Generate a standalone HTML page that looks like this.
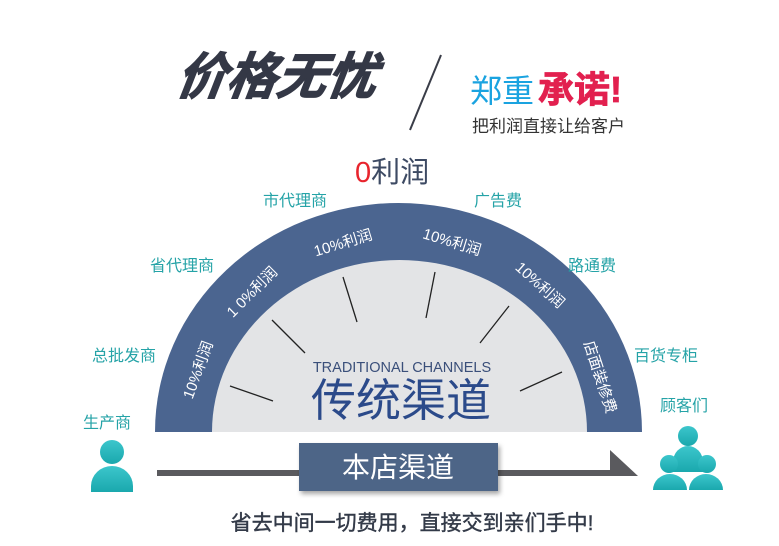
<!DOCTYPE html>
<html><head><meta charset="utf-8"><style>
html,body{margin:0;padding:0;background:#fff;width:779px;height:546px;overflow:hidden;}
svg{display:block;}
text{font-family:"Liberation Sans","Noto Sans CJK SC",sans-serif;}
</style></head><body>
<svg width="779" height="546" viewBox="0 0 779 546" xmlns="http://www.w3.org/2000/svg">
<defs>
<linearGradient id="tg" x1="0" y1="0" x2="0" y2="1"><stop offset="0" stop-color="#3cc6cc"/><stop offset="1" stop-color="#1aa8ad"/></linearGradient>
<filter id="sh" x="-10%" y="-20%" width="130%" height="160%"><feDropShadow dx="2" dy="3" stdDeviation="2.5" flood-color="#000" flood-opacity="0.35"/></filter>
<clipPath id="top"><rect x="0" y="0" width="779" height="432"/></clipPath>
</defs>
<rect width="779" height="546" fill="#fff"/>
<text x="176" y="94" font-size="50" font-weight="bold" font-style="italic" fill="#343846" stroke="#343846" stroke-width="1.2" transform="skewX(-8) translate(12,0)">价格无忧</text>
<line x1="441" y1="55" x2="410" y2="130" stroke="#3a3d48" stroke-width="2"/>
<text x="470" y="102" font-size="32" fill="#1aa3e0">郑重</text>
<text x="538" y="102" font-size="36" font-weight="bold" fill="#e2204f" stroke="#e2204f" stroke-width="0.8">承诺!</text>
<text x="472" y="132" font-size="17" fill="#333">把利润直接让给客户</text>
<text x="355" y="182" font-size="29" fill="#3d4a63"><tspan fill="#e8242d">0</tspan>利润</text>
<g clip-path="url(#top)">
<ellipse cx="398.5" cy="432" rx="243.5" ry="229" fill="#4b6590"/>
<ellipse cx="399.5" cy="432" rx="187.5" ry="172" fill="#e3e4e6"/>
</g>
<g stroke="#222" stroke-width="1.3">
<line x1="230" y1="386" x2="273" y2="401"/>
<line x1="272" y1="320" x2="305" y2="353"/>
<line x1="343" y1="277" x2="357" y2="322"/>
<line x1="435" y1="272" x2="426" y2="318"/>
<line x1="509" y1="306" x2="480" y2="343"/>
<line x1="562" y1="372" x2="520" y2="391"/>
</g>
<g font-size="15" fill="#fff" text-anchor="middle">
<text transform="translate(198,370) rotate(-70)" y="5">10%利润</text>
<text transform="translate(252,292) rotate(-45)" y="5">1 0%利润</text>
<text transform="translate(343,243) rotate(-17)" y="5">10%利润</text>
<text transform="translate(452,242) rotate(17)" y="5">10%利润</text>
<text transform="translate(540,285) rotate(42)" y="5">10%利润</text>
<text transform="translate(600,377) rotate(72)" y="5">店面装修费</text>
</g>
<text x="402" y="372" font-size="14.5" fill="#3a4f7a" text-anchor="middle">TRADITIONAL CHANNELS</text>
<text x="401" y="416" font-size="45" fill="#2b4a8a" text-anchor="middle">传统渠道</text>
<g font-size="16" fill="#25a3a7">
<text x="263" y="206">市代理商</text>
<text x="474" y="206">广告费</text>
<text x="150" y="271">省代理商</text>
<text x="568" y="271">路通费</text>
<text x="92" y="361">总批发商</text>
<text x="634" y="361">百货专柜</text>
<text x="83" y="428">生产商</text>
<text x="660" y="411">顾客们</text>
</g>
<rect x="157" y="470" width="455" height="6" fill="#5a5a5e"/>
<polygon points="610,450 638,476 610,476" fill="#5a5a5e"/>
<rect x="299" y="443" width="199" height="48" fill="#4d6587" filter="url(#sh)"/>
<text x="398" y="477" font-size="28" fill="#fff" text-anchor="middle">本店渠道</text>
<circle cx="112" cy="452" r="12" fill="url(#tg)"/>
<path d="M91,492 L91,486 A21,20 0 0 1 133,486 L133,492 Z" fill="url(#tg)"/>
<circle cx="688" cy="436" r="10" fill="url(#tg)"/>
<path d="M673,472 L673,462 A15,16 0 0 1 703,462 L703,472 Z" fill="url(#tg)"/>
<circle cx="669" cy="464" r="9" fill="url(#tg)"/>
<circle cx="707" cy="464" r="9" fill="url(#tg)"/>
<path d="M653,490 A17,16 0 0 1 687,490 Z" fill="url(#tg)"/>
<path d="M689,490 A17,16 0 0 1 723,490 Z" fill="url(#tg)"/>
<text x="412" y="530" font-size="21" fill="#333a48" stroke="#333a48" stroke-width="0.4" text-anchor="middle">省去中间一切费用，直接交到亲们手中!</text>
</svg>
</body></html>
